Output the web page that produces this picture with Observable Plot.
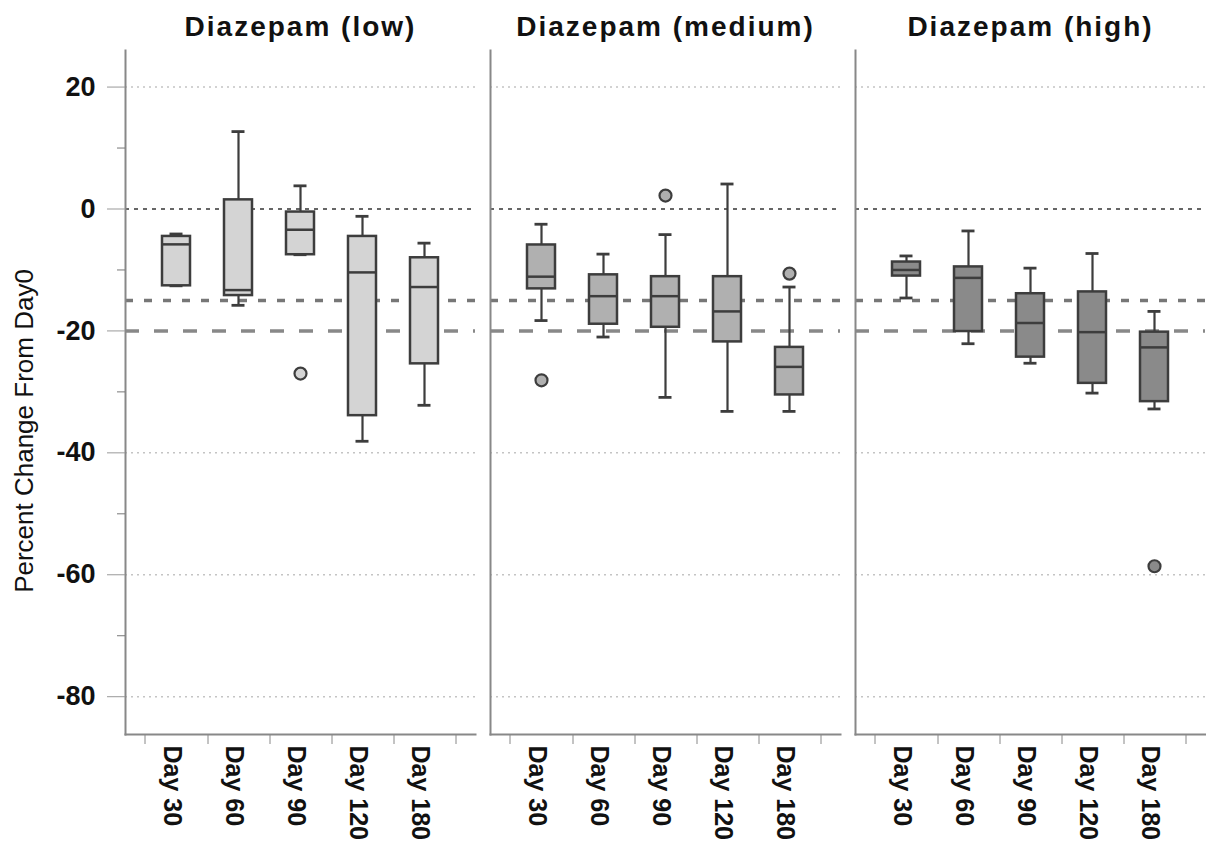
<!DOCTYPE html>
<html><head><meta charset="utf-8">
<script src="https://cdn.jsdelivr.net/npm/d3@7"></script>
<script src="https://cdn.jsdelivr.net/npm/@observablehq/plot@0.6"></script>
<style>body{margin:0;background:#fff} svg{display:block}</style>
</head><body><div id="chart"></div>
<script>
const groups = ["Diazepam (low)", "Diazepam (medium)", "Diazepam (high)"];
const days = ["Day 30", "Day 60", "Day 90", "Day 120", "Day 180"];
// box statistics, group-major order (low: 5 days, medium: 5 days, high: 5 days)
const whiskerLow  = [-12.6, -15.8, -7.5, -38.1, -32.2,  -18.3, -21.0, -30.9, -33.2, -33.2,  -14.6, -22.1, -25.3, -30.2, -32.8];
const q1          = [-12.6, -14.2, -7.5, -33.9, -25.4,  -13.1, -18.9, -19.4, -21.8, -30.5,  -11.0, -20.1, -24.3, -28.6, -31.6];
const median      = [-5.8, -13.3, -3.4, -10.4, -12.8,   -11.1, -14.3, -14.3, -16.8, -25.9,  -10.0, -11.3, -18.7, -20.2, -22.7];
const q3          = [-4.5, 1.5, -0.5, -4.5, -8.0,       -5.9, -10.8, -11.1, -11.1, -22.7,   -8.7, -9.5, -13.9, -13.6, -20.2];
const whiskerHigh = [-4.1, 12.7, 3.8, -1.2, -5.6,       -2.5, -7.4, -4.2, 4.1, -12.8,       -7.7, -3.6, -9.7, -7.3, -16.8];
const outlierGroup = ["Diazepam (low)", "Diazepam (medium)", "Diazepam (medium)", "Diazepam (medium)", "Diazepam (high)"];
const outlierDay   = ["Day 90", "Day 30", "Day 90", "Day 180", "Day 180"];
const outlierValue = [-27.0, -28.1, 2.2, -10.6, -58.6];
const majorTicks = [20, 0, -20, -40, -60, -80];
const minorTicks = [10, -10, -30, -50, -70];
const gridLines = [20, -40, -60, -80];
const zeroLine = [0];
const shortDashLine = [-15];
const longDashLine = [-20];
const boxFill = ["#d4d4d4", "#b0b0b0", "#8a8a8a"];
const yLabel = "Percent Change From Day0";

const boxes = groups.flatMap((g, gi) => days.map((d, di) => {
  const k = gi * days.length + di;
  return {group: g, day: d, lo: whiskerLow[k], q1: q1[k], median: median[k], q3: q3[k], hi: whiskerHigh[k]};
}));
const outliers = outlierValue.map((v, i) => ({group: outlierGroup[i], day: outlierDay[i], value: v}));

const ink = "#3d3d3d";
const plot = Plot.plot({
  width: 1206, height: 846,
  marginLeft: 125, marginRight: 0, marginTop: 50, marginBottom: 112,
  style: {fontFamily: "'Liberation Sans', Arial, sans-serif", background: "#fff", color: "#111"},
  fx: {domain: groups, paddingInner: 15 / 365.33, paddingOuter: 0, label: null},
  x: {domain: days, paddingInner: 0, paddingOuter: 0.278, label: null},
  y: {domain: [-86.2, 26], label: null},
  color: {domain: groups, range: boxFill},
  marks: [
    Plot.ruleY(gridLines, {stroke: "#c4c4c4", strokeWidth: 1.5, strokeDasharray: "2,4"}),
    Plot.ruleY(zeroLine, {stroke: "#666", strokeWidth: 2, strokeDasharray: "4,5"}),
    Plot.ruleY(shortDashLine, {stroke: "#777", strokeWidth: 3.5, strokeDasharray: "8,11"}),
    Plot.ruleY(longDashLine, {stroke: "#888", strokeWidth: 3.5, strokeDasharray: "14,15"}),
    Plot.frame({anchor: "left", stroke: "#888", strokeWidth: 2}),
    Plot.frame({anchor: "bottom", stroke: "#888", strokeWidth: 2}),
    Plot.axisY({ticks: majorTicks, tickSize: 18, tickPadding: 12, fontSize: 27, fontWeight: "bold", stroke: "#999", fill: "#111", tickFormat: d => String(d), label: null}),
    Plot.axisY({ticks: minorTicks, tickSize: 8, tickFormat: () => "", stroke: "#777", label: null}),
    Plot.axisX({ticks: days, tickSize: 10, dx: 31.5, tickFormat: () => "", stroke: "#888", label: null}),
    Plot.axisX({ticks: [days[0]], tickSize: 10, dx: -31.5, tickFormat: () => "", stroke: "#888", label: null}),
    Plot.axisX({tickSize: 0, tickRotate: 90, tickPadding: 11, fontSize: 25, fontWeight: "bold", fill: "#111", dx: -5, label: null}),
    Plot.axisFx({anchor: "top", tickSize: 0, tickPadding: 15, fontSize: 28, fontWeight: "bold", fill: "#111", label: null}),
    Plot.ruleX(boxes, {fx: "group", x: "day", y1: "lo", y2: "q1", stroke: ink, strokeWidth: 2.2}),
    Plot.ruleX(boxes, {fx: "group", x: "day", y1: "q3", y2: "hi", stroke: ink, strokeWidth: 2.2}),
    Plot.tickY(boxes, {fx: "group", x: "day", y: "lo", insetLeft: 24.5, insetRight: 24.5, stroke: ink, strokeWidth: 2.8}),
    Plot.tickY(boxes, {fx: "group", x: "day", y: "hi", insetLeft: 24.5, insetRight: 24.5, stroke: ink, strokeWidth: 2.8}),
    Plot.barY(boxes, {fx: "group", x: "day", y1: "q1", y2: "q3", fill: "group", stroke: ink, strokeWidth: 2.5, insetLeft: 17, insetRight: 17}),
    Plot.tickY(boxes, {fx: "group", x: "day", y: "median", insetLeft: 17, insetRight: 17, stroke: ink, strokeWidth: 2.5}),
    Plot.dot(outliers, {fx: "group", x: "day", y: "value", r: 6, fill: "group", stroke: ink, strokeWidth: 2.2})
  ]
});

const svg = d3.select(plot);
svg.selectAll('g[aria-label="fx-axis tick label"] text').style("letter-spacing", "2px");
svg.append("text")
  .attr("transform", "translate(32.5,431) rotate(-90)")
  .attr("text-anchor", "middle")
  .attr("font-size", 26)
  .attr("fill", "#111")
  .text(yLabel);
document.getElementById("chart").appendChild(plot);
</script>
</body></html>
